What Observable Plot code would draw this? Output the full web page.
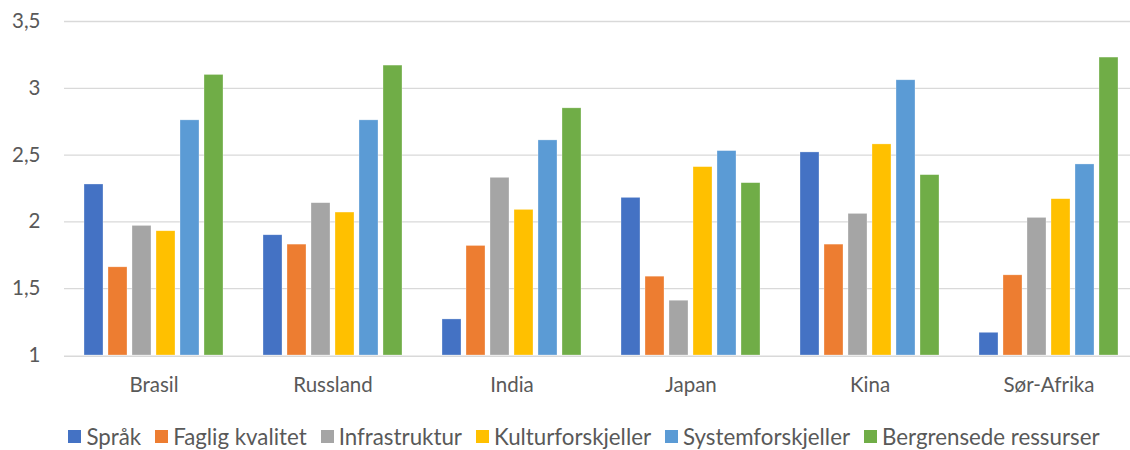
<!DOCTYPE html>
<html>
<head>
<meta charset="utf-8">
<script src="https://cdn.jsdelivr.net/npm/d3@7"></script>
<script src="https://cdn.jsdelivr.net/npm/@observablehq/plot@0.6"></script>
<style>
  html, body { margin: 0; padding: 0; background: #fff; overflow: hidden; }
  #chart { width: 1130px; height: 450px; }
  .legend { display: flex; justify-content: center; align-items: center; height: 40px; box-sizing: border-box; padding-top: 12px; padding-left: 38px; font-family: Lato, "Open Sans", sans-serif; font-size: 22.3px; color: #595959; white-space: nowrap; }
  .legend .item { display: flex; align-items: center; margin-right: 14px; }
  .legend .item:last-child { margin-right: 0; }
  .legend .sw { width: 13px; height: 13px; margin-right: 5px; }
</style>
</head>
<body>
<div id="chart"></div>
<script>
const countries = ["Brasil", "Russland", "India", "Japan", "Kina", "Sør-Afrika"];
const seriesNames = ["Språk", "Faglig kvalitet", "Infrastruktur", "Kulturforskjeller", "Systemforskjeller", "Bergrensede ressurser"];
const colors = ["#4472C4", "#ED7D31", "#A5A5A5", "#FFC000", "#5B9BD5", "#70AD47"];
const sprak        = [2.28, 1.90, 1.27, 2.18, 2.52, 1.17];
const faglig       = [1.66, 1.83, 1.82, 1.59, 1.83, 1.60];
const infra        = [1.97, 2.14, 2.33, 1.41, 2.06, 2.03];
const kultur       = [1.93, 2.07, 2.09, 2.41, 2.58, 2.17];
const system       = [2.76, 2.76, 2.61, 2.53, 3.06, 2.43];
const ressurser    = [3.10, 3.17, 2.85, 2.29, 2.35, 3.23];
const yTicks = [1, 1.5, 2, 2.5, 3, 3.5];

const seriesValues = [sprak, faglig, infra, kultur, system, ressurser];
const data = [];
countries.forEach((c, i) => {
  seriesNames.forEach((s, j) => {
    data.push({country: c, series: s, value: seriesValues[j][i]});
  });
});

const fmt = d => String(d).replace(".", ",");

const plot = Plot.plot({
  width: 1130,
  height: 410,
  marginLeft: 63,
  marginRight: 0,
  marginTop: 21,
  marginBottom: 55,
  style: {fontFamily: "Lato, 'Open Sans', sans-serif", fontSize: "20.5px", color: "#595959", background: "#fff", overflow: "visible"},
  facet: {data, x: "country"},
  fx: {domain: countries, range: [63, 63 + 6 * 179.4], padding: 0, axis: "bottom", label: null, tickSize: 0, tickPadding: 22},
  x: {domain: seriesNames, paddingInner: 0.2, paddingOuter: 0.8, axis: null},
  y: {domain: [1, 3.5], ticks: yTicks, tickFormat: fmt, tickSize: 0, tickPadding: 24, label: null, grid: false},
  color: {domain: seriesNames, range: colors},
  marks: [
    Plot.ruleY(yTicks.slice(1), {stroke: "#d9d9d9", strokeWidth: 1.3}),
    Plot.barY(data, {x: "series", y1: 1, y2: "value", fill: "series", stroke: "#fff", strokeOpacity: 0.5, strokeWidth: 0.6}),
    Plot.ruleY([1], {stroke: "#d9d9d9", strokeWidth: 1.5, dy: 0.8})
  ]
});
document.getElementById("chart").appendChild(plot);

const legend = document.createElement("div");
legend.className = "legend";
seriesNames.forEach((s, j) => {
  const item = document.createElement("span");
  item.className = "item";
  const sw = document.createElement("span");
  sw.className = "sw";
  sw.style.background = colors[j];
  const t = document.createElement("span");
  t.textContent = s;
  item.appendChild(sw);
  item.appendChild(t);
  legend.appendChild(item);
});
document.getElementById("chart").appendChild(legend);
</script>
</body>
</html>
